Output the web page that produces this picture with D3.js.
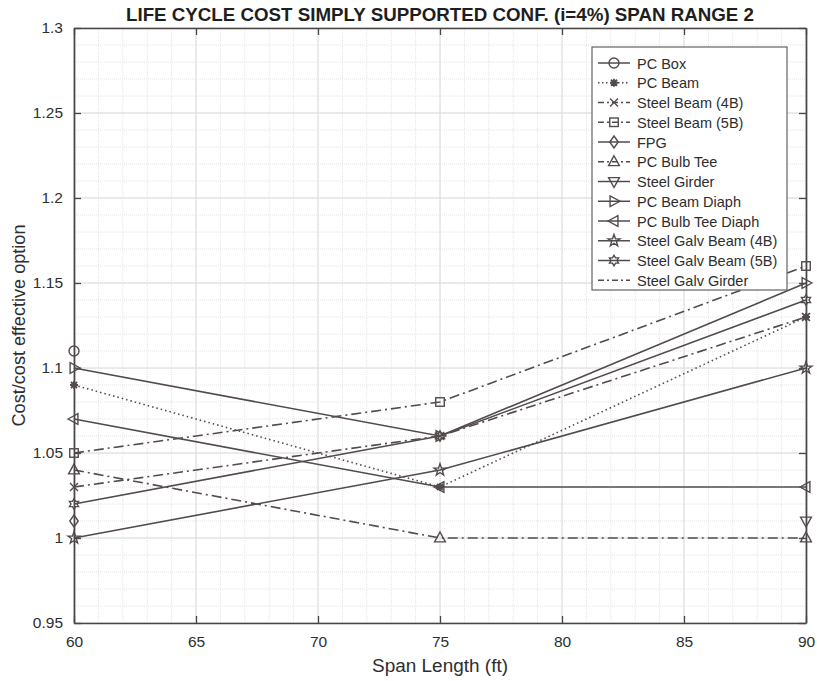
<!DOCTYPE html>
<html>
<head>
<meta charset="utf-8">
<script src="https://cdn.jsdelivr.net/npm/d3@7"></script>
<style>
  html, body { margin: 0; padding: 0; background: #fff; }
  svg { display: block; }
  .narrow { font-family: "Liberation Sans Narrow", "Arial Narrow", "Liberation Sans", Arial, sans-serif; }
  .sans { font-family: "Liberation Sans", Arial, Helvetica, sans-serif; }
</style>
</head>
<body>
<svg id="chart" width="817" height="681"></svg>
<script>
// Span lengths (ft) where each bridge option was evaluated
const spans = [60, 75, 90];

// Series names, in legend order
const seriesNames = [
  "PC Box", "PC Beam", "Steel Beam (4B)", "Steel Beam (5B)", "FPG", "PC Bulb Tee",
  "Steel Girder", "PC Beam Diaph", "PC Bulb Tee Diaph", "Steel Galv Beam (4B)",
  "Steel Galv Beam (5B)", "Steel Galv Girder"
];

// Cost / cost-effective option ratio at each span (null = not evaluated)
const pcBox          = [1.11, null, null];
const pcBeam         = [1.09, 1.03, 1.13];
const steelBeam4B    = [1.03, 1.06, 1.13];
const steelBeam5B    = [1.05, 1.08, 1.16];
const fpg            = [1.01, null, null];
const pcBulbTee      = [1.04, 1.00, 1.00];
const steelGirder    = [null, null, 1.01];
const pcBeamDiaph    = [1.10, 1.06, 1.15];
const pcBulbTeeDiaph = [1.07, 1.03, 1.03];
const steelGalv4B    = [1.00, 1.04, 1.10];
const steelGalv5B    = [1.02, 1.06, 1.14];
const steelGalvGird  = [null, null, null];

const seriesValues = [pcBox, pcBeam, steelBeam4B, steelBeam5B, fpg, pcBulbTee,
  steelGirder, pcBeamDiaph, pcBulbTeeDiaph, steelGalv4B, steelGalv5B, steelGalvGird];

// Axis ticks
const xTicks = [60, 65, 70, 75, 80, 85, 90];
const yTicks = [0.95, 1, 1.05, 1.1, 1.15, 1.2, 1.25, 1.3];
const yTickLabels = ["0.95", "1", "1.05", "1.1", "1.15", "1.2", "1.25", "1.3"];

const titleText = "LIFE CYCLE COST SIMPLY SUPPORTED CONF. (i=4%) SPAN RANGE 2";
const xLabel = "Span Length (ft)";
const yLabel = "Cost/cost effective option";

// Line style and marker per series
const styles = [
  { dash: null,        marker: "circle" },
  { dash: "1.5,3",     marker: "asterisk" },
  { dash: "10,4,2,4",  marker: "x" },
  { dash: "10,4,2,4",  marker: "square" },
  { dash: null,        marker: "diamond" },
  { dash: "10,4,2,4",  marker: "triUp" },
  { dash: null,        marker: "triDown" },
  { dash: null,        marker: "triRight" },
  { dash: null,        marker: "triLeft" },
  { dash: null,        marker: "pentagram" },
  { dash: null,        marker: "hexagram" },
  { dash: "10,4,2,4",  marker: "none" }
];

const ink = "#534b4b";
const axisInk = "#4a4545";
const textInk = "#2e2e2e";

const W = 817, H = 681;
const m = { left: 74, right: 11, top: 28, bottom: 58 };
const pw = W - m.left - m.right, ph = H - m.top - m.bottom;

const svg = d3.select("#chart");
const x = d3.scaleLinear().domain([60, 90]).range([m.left, m.left + pw]);
const y = d3.scaleLinear().domain([0.95, 1.3]).range([m.top + ph, m.top]);

// Minor grid
const g = svg.append("g");
d3.range(60, 90.001, 1).forEach(v => {
  g.append("line").attr("x1", x(v)).attr("x2", x(v)).attr("y1", m.top).attr("y2", m.top + ph)
    .attr("stroke", "#e4e4e4").attr("stroke-width", 1).attr("stroke-dasharray", "1,1");
});
d3.range(0, 36).map(i => 0.95 + i * 0.01).forEach(v => {
  g.append("line").attr("x1", m.left).attr("x2", m.left + pw).attr("y1", y(v)).attr("y2", y(v))
    .attr("stroke", "#e4e4e4").attr("stroke-width", 1).attr("stroke-dasharray", "1,1");
});
// Major grid
xTicks.forEach(v => {
  g.append("line").attr("x1", x(v)).attr("x2", x(v)).attr("y1", m.top).attr("y2", m.top + ph)
    .attr("stroke", "#dcdcdc").attr("stroke-width", 1);
});
yTicks.forEach(v => {
  g.append("line").attr("x1", m.left).attr("x2", m.left + pw).attr("y1", y(v)).attr("y2", y(v))
    .attr("stroke", "#dcdcdc").attr("stroke-width", 1);
});

// Axes with inward ticks on all four sides
const tickLen = 7;
const xAxisB = d3.axisBottom(x).tickValues(xTicks).tickSizeInner(-tickLen).tickSizeOuter(0).tickPadding(13).tickFormat(d3.format("d"));
const xAxisT = d3.axisTop(x).tickValues(xTicks).tickSizeInner(-tickLen).tickSizeOuter(0).tickFormat("");
const yAxisL = d3.axisLeft(y).tickValues(yTicks).tickSizeInner(-tickLen).tickSizeOuter(0).tickPadding(11)
  .tickFormat((d, i) => yTickLabels[i]);
const yAxisR = d3.axisRight(y).tickValues(yTicks).tickSizeInner(-tickLen).tickSizeOuter(0).tickFormat("");

function styleAxis(sel) {
  sel.selectAll(".domain").attr("stroke", axisInk).attr("stroke-width", 1.7);
  sel.selectAll(".tick line").attr("stroke", axisInk).attr("stroke-width", 1.3);
  sel.selectAll("text").attr("class", "narrow").attr("fill", textInk).attr("font-size", 15.5);
}
svg.append("g").attr("transform", `translate(0,${m.top + ph})`).call(xAxisB).call(styleAxis);
svg.append("g").attr("transform", `translate(0,${m.top})`).call(xAxisT).call(styleAxis);
svg.append("g").attr("transform", `translate(${m.left},0)`).call(yAxisL).call(styleAxis);
svg.append("g").attr("transform", `translate(${m.left + pw},0)`).call(yAxisR).call(styleAxis);

// Marker shapes
function starPath(n, ro, ri) {
  const pts = [];
  for (let i = 0; i < 2 * n; i++) {
    const r = i % 2 === 0 ? ro : ri;
    const a = -Math.PI / 2 + i * Math.PI / n;
    pts.push([r * Math.cos(a), r * Math.sin(a)]);
  }
  return "M" + pts.map(p => p[0].toFixed(2) + "," + p[1].toFixed(2)).join("L") + "Z";
}
function triPath(dir, r) {
  const base = [[0, -r], [r * 0.9, r * 0.65], [-r * 0.9, r * 0.65]];
  const rot = { up: 0, right: 90, down: 180, left: 270 }[dir] * Math.PI / 180;
  const pts = base.map(([a, b]) => [a * Math.cos(rot) - b * Math.sin(rot), a * Math.sin(rot) + b * Math.cos(rot)]);
  return "M" + pts.map(p => p[0].toFixed(2) + "," + p[1].toFixed(2)).join("L") + "Z";
}
function drawMarker(sel, type, cx, cy) {
  const mg = sel.append("g").attr("transform", `translate(${cx},${cy})`)
    .attr("stroke", ink).attr("stroke-width", 1.4).attr("fill", "none");
  const r = 5;
  switch (type) {
    case "circle": mg.append("circle").attr("r", r); break;
    case "square": mg.append("rect").attr("x", -r * 0.85).attr("y", -r * 0.85).attr("width", r * 1.7).attr("height", r * 1.7); break;
    case "diamond": mg.append("path").attr("d", `M0,${-r * 1.2}L${r * 0.85},0L0,${r * 1.2}L${-r * 0.85},0Z`); break;
    case "triUp": mg.append("path").attr("d", triPath("up", r * 1.2)); break;
    case "triDown": mg.append("path").attr("d", triPath("down", r * 1.2)); break;
    case "triRight": mg.append("path").attr("d", triPath("right", r * 1.2)); break;
    case "triLeft": mg.append("path").attr("d", triPath("left", r * 1.2)); break;
    case "pentagram": mg.append("path").attr("d", starPath(5, r * 1.25, r * 0.5)); break;
    case "hexagram": mg.append("path").attr("d", starPath(6, r * 1.05, r * 0.6)); break;
    case "x":
      mg.append("path").attr("d", `M${-r * 0.8},${-r * 0.8}L${r * 0.8},${r * 0.8}M${-r * 0.8},${r * 0.8}L${r * 0.8},${-r * 0.8}`);
      break;
    case "asterisk":
      mg.append("path").attr("stroke-width", 1.8)
        .attr("d", `M0,${-r * 0.8}L0,${r * 0.8}M${-r * 0.8},0L${r * 0.8},0M${-r * 0.6},${-r * 0.6}L${r * 0.6},${r * 0.6}M${-r * 0.6},${r * 0.6}L${r * 0.6},${-r * 0.6}`);
      break;
  }
}

// Series lines and markers
const line = d3.line().defined(d => d.v != null).x(d => x(d.s)).y(d => y(d.v));
const plot = svg.append("g");
seriesValues.forEach((vals, i) => {
  const pts = spans.map((s, j) => ({ s, v: vals[j] }));
  const p = plot.append("path").datum(pts).attr("d", line)
    .attr("fill", "none").attr("stroke", ink).attr("stroke-width", 1.6);
  if (styles[i].dash) p.attr("stroke-dasharray", styles[i].dash);
});
seriesValues.forEach((vals, i) => {
  spans.forEach((s, j) => {
    if (vals[j] != null && styles[i].marker !== "none") drawMarker(plot, styles[i].marker, x(s), y(vals[j]));
  });
});

// Legend
const lg = { x: 592, y: 47, w: 195, h: 243, row: 19.75 };
const leg = svg.append("g");
leg.append("rect").attr("x", lg.x).attr("y", lg.y).attr("width", lg.w).attr("height", lg.h)
  .attr("fill", "#fff").attr("stroke", "#555").attr("stroke-width", 1.1);
seriesNames.forEach((name, i) => {
  const cy = lg.y + 16 + i * lg.row;
  const l = leg.append("line").attr("x1", lg.x + 6).attr("x2", lg.x + 38).attr("y1", cy).attr("y2", cy)
    .attr("stroke", ink).attr("stroke-width", 1.5);
  if (styles[i].dash) l.attr("stroke-dasharray", styles[i].dash === "1.5,3" ? "1.5,2.5" : "6,3,2,3");
  if (styles[i].marker !== "none") drawMarker(leg, styles[i].marker, lg.x + 22, cy);
  leg.append("text").attr("class", "sans").attr("x", lg.x + 45).attr("y", cy + 5.5)
    .attr("font-size", 14.5).attr("fill", textInk).text(name);
});

// Title and axis labels
svg.append("text").attr("class", "narrow").attr("x", x(75)).attr("y", 21)
  .attr("text-anchor", "middle").attr("font-size", 18).attr("font-weight", "bold").attr("fill", "#1e1e1e")
  .attr("textLength", 628).attr("lengthAdjust", "spacingAndGlyphs").text(titleText);
svg.append("text").attr("class", "narrow").attr("x", x(75)).attr("y", 672)
  .attr("text-anchor", "middle").attr("font-size", 17.5).attr("fill", textInk)
  .attr("textLength", 136).attr("lengthAdjust", "spacingAndGlyphs").text(xLabel);
svg.append("text").attr("class", "narrow").attr("transform", `translate(25,${y(1.125)}) rotate(-90)`)
  .attr("text-anchor", "middle").attr("font-size", 17.5).attr("fill", textInk)
  .attr("textLength", 202).attr("lengthAdjust", "spacingAndGlyphs").text(yLabel);
</script>
</body>
</html>
